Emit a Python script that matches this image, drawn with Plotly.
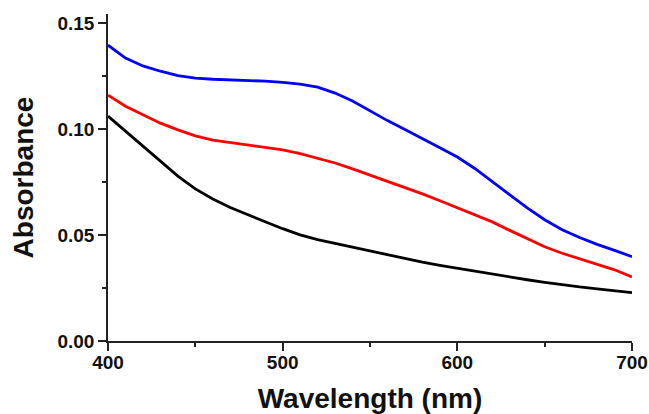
import plotly.graph_objects as go

wavelength = [400, 410, 420, 430, 440, 450, 460, 470, 480, 490, 500,
              510, 520, 530, 540, 550, 560, 570, 580, 590, 600,
              610, 620, 630, 640, 650, 660, 670, 680, 690, 700]

blue_abs = [0.1396, 0.1335, 0.1298, 0.1273, 0.1252, 0.1240, 0.1235, 0.1233, 0.1231, 0.1226, 0.1220,
            0.1212, 0.1198, 0.1170, 0.1132, 0.1084, 0.1040, 0.0998, 0.0956, 0.0912, 0.0868,
            0.0814, 0.0752, 0.0690, 0.0628, 0.0572, 0.0525, 0.0488, 0.0456, 0.0428, 0.0398]

red_abs = [0.1160, 0.1108, 0.1068, 0.1028, 0.0996, 0.0968, 0.0948, 0.0936, 0.0925, 0.0914, 0.0902,
           0.0884, 0.0862, 0.0840, 0.0812, 0.0783, 0.0755, 0.0725, 0.0694, 0.0662, 0.0629,
           0.0598, 0.0562, 0.0522, 0.0482, 0.0445, 0.0414, 0.0388, 0.0363, 0.0336, 0.0302]

black_abs = [0.1061, 0.0990, 0.0917, 0.0845, 0.0778, 0.0718, 0.0670, 0.0630, 0.0595, 0.0563, 0.0530,
             0.0501, 0.0478, 0.0460, 0.0442, 0.0425, 0.0409, 0.0390, 0.0372, 0.0357, 0.0343,
             0.0330, 0.0316, 0.0302, 0.0289, 0.0277, 0.0265, 0.0255, 0.0246, 0.0237, 0.0228]

x_ticks = [400, 500, 600, 700]
y_ticks = [0.00, 0.05, 0.10, 0.15]
y_labels = ["0.00", "0.05", "0.10", "0.15"]

font_name = "Liberation Sans, Arial, sans-serif"

fig = go.Figure()
for ys, col in [(black_abs, "#000000"), (red_abs, "#ff0000"), (blue_abs, "#0000ff")]:
    fig.add_trace(go.Scatter(x=wavelength, y=ys, mode="lines",
                             line=dict(color=col, width=2.8),
                             showlegend=False))

axis_common = dict(showline=True, linecolor="#222", linewidth=1.6, ticks="outside",
                   ticklen=8, tickwidth=1.5, tickcolor="#222", showgrid=False,
                   zeroline=False, mirror=False, automargin=False,
                   tickfont=dict(family=font_name, size=19, color="#111", weight="bold"))

fig.update_xaxes(range=[400, 700], tickvals=x_ticks, ticklabelstandoff=-5,
                 minor=dict(tickvals=[450, 550, 650], ticks="outside", ticklen=4,
                            tickwidth=1.5, tickcolor="#222"),
                 title=dict(text="Wavelength (nm)", standoff=21,
                            font=dict(family=font_name, size=28, color="#111", weight="bold")),
                 **axis_common)
fig.update_yaxes(range=[0, 0.1543], tickvals=y_ticks, ticktext=y_labels,
                 minor=dict(tickvals=[0.025, 0.075, 0.125], ticks="outside", ticklen=4,
                            tickwidth=1.5, tickcolor="#222"),
                 title=dict(text="Absorbance", standoff=16,
                            font=dict(family=font_name, size=28, color="#111", weight="bold")),
                 **axis_common)

fig.update_layout(width=649, height=414, plot_bgcolor="white", paper_bgcolor="white",
                  margin=dict(l=108, r=17, t=14, b=73))

# drop the default page margin so the figure fills the window exactly
fig.write_html("out.html", config={"displayModeBar": False},
               post_script="document.body.style.margin='0';document.body.style.overflow='hidden';")
